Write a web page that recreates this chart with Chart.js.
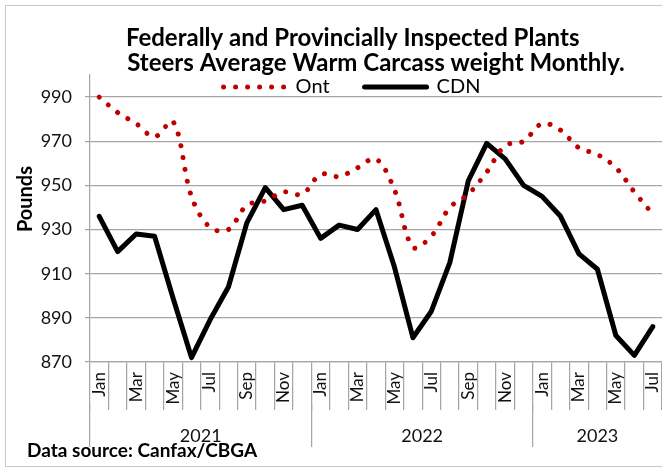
<!DOCTYPE html>
<html>
<head>
<meta charset="utf-8">
<title>Steers Average Warm Carcass weight Monthly</title>
<script src="https://cdn.jsdelivr.net/npm/chart.js@4"></script>
<style>
    html, body { margin: 0; padding: 0; background: #fff; overflow: hidden; }
    #wrap { position: relative; width: 662px; height: 468px; }
    #frame { position: absolute; left: 5px; top: 5px; width: 720px; height: 460px; border: 1.5px solid #c8c8c8; }
    #chart { position: absolute; left: 0; top: 0; }
</style>
</head>
<body>
<div id="wrap">
    <div id="frame"></div>
    <canvas id="chart" width="662" height="468"></canvas>
</div>
<script>
// monthly data, Jan 2021 - Jul 2023
const months = ['Jan','Feb','Mar','Apr','May','Jun','Jul','Aug','Sep','Oct','Nov','Dec',
                'Jan','Feb','Mar','Apr','May','Jun','Jul','Aug','Sep','Oct','Nov','Dec',
                'Jan','Feb','Mar','Apr','May','Jun','Jul'];
const ont = [990, 983, 978, 972, 979, 945, 931, 930, 941, 943, 947, 946,
             955, 954, 958, 962, 948, 922, 927, 940, 946, 956, 968, 970,
             978, 975, 967, 964, 958, 947, 937];
const cdn = [936, 920, 928, 927, 899, 872, 889, 904, 933, 949, 939, 941,
             926, 932, 930, 939, 913, 881, 893, 915, 952, 969, 962, 950,
             945, 936, 919, 912, 882, 873, 886];
const years = ['2021', '2022', '2023'];
const yearStart = [0, 12, 24];
const yearEnd = [12, 24, 31];
const yTicks = [870, 890, 910, 930, 950, 970, 990];

const FONT = 'Lato';
const GRID = '#a6a6a6';
const PAD_LEFT = 27;

// year ticks for the second x axis: a separator at the start of each year and a label in the middle
const yearTicks = [];
years.forEach((y, i) => {
    yearTicks.push({ value: yearStart[i], label: '' });
    yearTicks.push({ value: (yearStart[i] + yearEnd[i]) / 2, label: y });
});

// legend sits inside the top of the plot like in the excel chart
const legendInPlot = {
    id: 'legendInPlot',
    beforeInit(chart) {
        const fit = chart.legend.fit;
        chart.legend.fit = function () { fit.call(this); this.height = 0; };
    },
    afterLayout(chart) {
        const lg = chart.legend;
        const pad = lg.options.labels.padding;
        lg.top = 87 - pad - 10;
        lg.bottom = lg.top + 70;
        lg.left = 352 - 250;
        lg.right = 352 + 250;
    }
};

// with usePointStyle the legend takes point styles, so copy the line dash and width back
function legendLabels(chart) {
    const items = Chart.defaults.plugins.legend.labels.generateLabels(chart);
    items.forEach((item, i) => {
        const ds = chart.data.datasets[i];
        item.lineDash = ds.borderDash || [];
        item.lineCap = ds.borderCapStyle;
        item.lineWidth = ds.borderWidth;
        item.strokeStyle = ds.borderColor;
    });
    return items;
}

const ctx = document.getElementById('chart').getContext('2d');
new Chart(ctx, {
    type: 'line',
    data: {
        labels: months,
        datasets: [{
            label: 'Ont',
            data: ont,
            borderColor: '#c00000',
            borderWidth: 5,
            borderDash: [0.001, 12],
            borderCapStyle: 'round',
            tension: 0.35,
            pointRadius: 0,
            fill: false
        }, {
            label: 'CDN',
            data: cdn,
            borderColor: '#000000',
            borderWidth: 5,
            borderCapStyle: 'round',
            borderJoinStyle: 'round',
            tension: 0,
            pointRadius: 0,
            fill: false
        }]
    },
    options: {
        responsive: false,
        animation: false,
        devicePixelRatio: 1,
        layout: { padding: { left: PAD_LEFT, right: 0, top: 0, bottom: 0 } },
        plugins: {
            tooltip: { enabled: false },
            title: {
                display: true,
                fullSize: false,
                text: ['Federally and Provincially Inspected Plants        ',
                       'Steers Average Warm Carcass weight Monthly.'],
                color: '#000',
                font: { family: FONT, size: 24, weight: 'bold', lineHeight: 25 / 24 },
                padding: { top: 25.5, bottom: -0.5 }
            },
            legend: {
                display: true,
                labels: {
                    usePointStyle: true,
                    pointStyle: 'line',
                    pointStyleWidth: 62,
                    padding: 35,
                    color: '#000',
                    font: { family: FONT, size: 20 },
                    generateLabels: legendLabels
                }
            },
            subtitle: {
                display: true,
                position: 'bottom',
                align: 'start',
                text: 'Data source: Canfax/CBGA',
                color: '#000',
                font: { family: FONT, size: 19, weight: 'bold', lineHeight: 1.2 },
                padding: { top: -7.8, bottom: 6 }
            }
        },
        scales: {
            x: {
                offset: true,
                weight: 0,
                grid: { offset: true, drawOnChartArea: false, tickLength: 48, color: GRID, lineWidth: 1.25 },
                border: { color: GRID, width: 1.25 },
                ticks: {
                    autoSkip: false,
                    minRotation: 90,
                    maxRotation: 90,
                    padding: -38,
                    color: '#111',
                    font: { family: FONT, size: 17 },
                    callback: (v, i) => (i % 2 === 0 ? months[i] : '')
                },
                afterFit: s => { s.height = 43; }
            },
            x2: {
                type: 'linear',
                position: 'bottom',
                weight: 1,
                min: 0,
                max: months.length,
                afterBuildTicks: s => { s.ticks = yearTicks.map(t => ({ value: t.value })); },
                grid: {
                    drawOnChartArea: false,
                    tickLength: 42,
                    lineWidth: 1.25,
                    color: c => (c.tick && c.tick.label ? 'rgba(0,0,0,0)' : GRID)
                },
                border: { display: false },
                ticks: {
                    autoSkip: false,
                    maxRotation: 0,
                    padding: -21.5,
                    color: '#111',
                    font: { family: FONT, size: 18 },
                    callback: (v, i) => yearTicks[i].label
                },
                afterFit: s => { s.height = 42; }
            },
            y: {
                min: 870,
                max: 1000,
                afterBuildTicks: s => { s.ticks = yTicks.map(v => ({ value: v })); },
                grid: { color: GRID, lineWidth: 1.25, tickLength: 5 },
                border: { color: GRID, width: 1.25 },
                ticks: {
                    padding: 13,
                    color: '#111',
                    font: { family: FONT, size: 18 }
                },
                title: {
                    display: true,
                    text: '        Pounds',
                    color: '#000',
                    font: { family: FONT, size: 20, weight: 'bold', lineHeight: 1.2 },
                    padding: { top: -13.5, bottom: 0 }
                },
                afterFit: s => { s.width = 90 - PAD_LEFT; }
            }
        }
    },
    plugins: [legendInPlot]
});
</script>
</body>
</html>
